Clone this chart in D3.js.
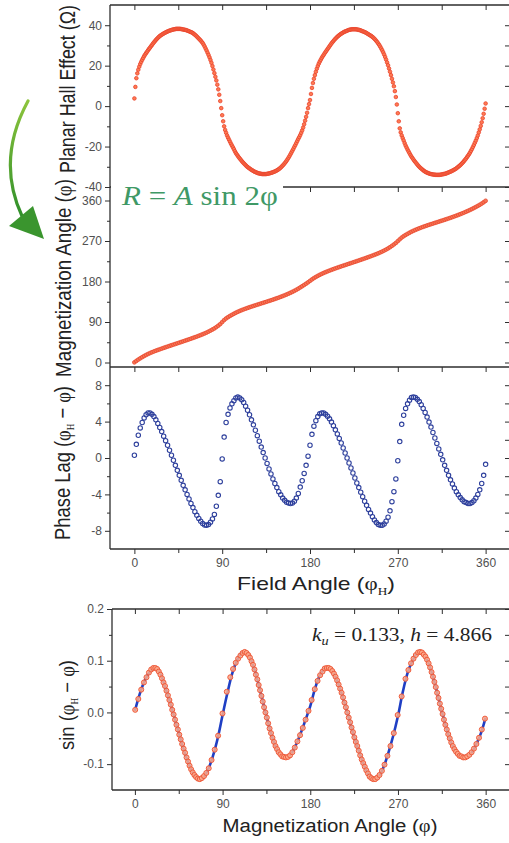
<!DOCTYPE html>
<html><head><meta charset="utf-8">
<script src="https://cdn.jsdelivr.net/npm/d3@7"></script>
<style>body{margin:0;background:#fff}svg{display:block}</style>
</head><body>
<svg id="c" width="509" height="843"></svg>
<script>
// ---------- DATA ----------
// panel 1 is sampled more finely than the others
const hallAngle = [0,1,2,3,4,5,6,7,8,9,10,11,12,13,14,15,16,17,18,19,20,21,22,23,24,25,26,27,28,29,
30,31,32,33,34,35,36,37,38,39,40,41,42,43,44,45,46,47,48,49,50,51,52,53,54,55,56,57,58,59,
60,61,62,63,64,65,66,67,68,69,70,71,72,73,74,75,76,77,78,79,80,81,82,83,84,85,86,87,88,89,
90,91,92,93,94,95,96,97,98,99,100,101,102,103,104,105,106,107,108,109,110,111,112,113,114,115,116,117,118,119,
120,121,122,123,124,125,126,127,128,129,130,131,132,133,134,135,136,137,138,139,140,141,142,143,144,145,146,147,148,149,
150,151,152,153,154,155,156,157,158,159,160,161,162,163,164,165,166,167,168,169,170,171,172,173,174,175,176,177,178,179,
180,181,182,183,184,185,186,187,188,189,190,191,192,193,194,195,196,197,198,199,200,201,202,203,204,205,206,207,208,209,
210,211,212,213,214,215,216,217,218,219,220,221,222,223,224,225,226,227,228,229,230,231,232,233,234,235,236,237,238,239,
240,241,242,243,244,245,246,247,248,249,250,251,252,253,254,255,256,257,258,259,260,261,262,263,264,265,266,267,268,269,
270,271,272,273,274,275,276,277,278,279,280,281,282,283,284,285,286,287,288,289,290,291,292,293,294,295,296,297,298,299,
300,301,302,303,304,305,306,307,308,309,310,311,312,313,314,315,316,317,318,319,320,321,322,323,324,325,326,327,328,329,
330,331,332,333,334,335,336,337,338,339,340,341,342,343,344,345,346,347,348,349,350,351,352,353,354,355,356,357,358,359,360];

const hallEffect = [3.8,9.5,13.8,16.2,18.0,19.5,20.8,21.9,22.9,23.8,
24.7,25.5,26.2,26.9,27.6,28.3,28.9,29.6,30.2,30.9,
31.5,32.1,32.7,33.2,33.7,34.2,34.6,35.0,35.3,35.6,
35.9,36.2,36.4,36.7,36.9,37.1,37.3,37.5,37.6,37.8,
37.9,38.0,38.1,38.2,38.2,38.2,38.2,38.2,38.1,38.0,
37.9,37.8,37.7,37.6,37.4,37.2,37.0,36.8,36.6,36.4,
36.1,35.7,35.3,34.9,34.4,33.9,33.4,32.9,32.4,31.8,
31.2,30.4,29.5,28.5,27.5,26.4,25.3,24.1,22.8,21.4,
19.8,18.1,16.3,14.5,12.7,10.6,8.3,5.6,2.5,-1.0,
-4.5,-7.5,-10.0,-11.8,-13.2,-14.5,-15.6,-16.6,-17.6,-18.6,
-19.5,-20.4,-21.3,-22.3,-23.2,-23.9,-24.6,-25.3,-25.9,-26.5,
-27.1,-27.7,-28.2,-28.7,-29.2,-29.7,-30.1,-30.5,-30.8,-31.2,
-31.5,-31.8,-32.1,-32.4,-32.6,-32.8,-33.0,-33.2,-33.3,-33.4,
-33.5,-33.6,-33.6,-33.6,-33.6,-33.6,-33.5,-33.4,-33.3,-33.2,
-33.0,-32.9,-32.7,-32.5,-32.3,-32.1,-31.8,-31.5,-31.2,-30.8,
-30.4,-29.9,-29.4,-28.9,-28.3,-27.7,-27.0,-26.3,-25.5,-24.7,
-23.8,-22.9,-22.0,-21.1,-20.1,-19.2,-18.2,-17.2,-16.2,-15.3,
-14.3,-13.2,-12.0,-10.6,-9.0,-7.2,-5.3,-3.3,-1.0,1.0,
3.0,6.0,9.0,11.4,13.5,15.3,17.0,18.5,19.8,21.0,
22.0,22.9,23.8,24.6,25.3,26.1,26.8,27.5,28.2,28.9,
29.6,30.3,31.0,31.6,32.2,32.8,33.3,33.8,34.3,34.7,
35.1,35.5,35.8,36.1,36.4,36.7,36.9,37.1,37.3,37.5,
37.7,37.8,37.9,38.0,38.0,38.0,38.0,38.0,37.9,37.8,
37.7,37.6,37.4,37.2,37.0,36.8,36.6,36.4,36.1,35.8,
35.5,35.2,34.9,34.6,34.2,33.8,33.3,32.8,32.2,31.6,
30.9,30.2,29.4,28.5,27.6,26.6,25.5,24.3,23.0,21.6,
20.2,18.6,17.0,15.3,13.5,11.7,9.8,7.4,4.5,0.8,
-3.5,-7.5,-11.0,-13.0,-14.5,-15.8,-17.0,-18.3,-19.5,-20.5,
-21.5,-22.4,-23.3,-24.2,-25.0,-25.7,-26.4,-27.1,-27.7,-28.3,
-28.9,-29.5,-30.0,-30.5,-30.9,-31.3,-31.7,-32.1,-32.4,-32.7,
-32.9,-33.1,-33.3,-33.5,-33.6,-33.7,-33.8,-33.9,-33.9,-34.0,
-34.0,-34.0,-34.0,-34.0,-33.9,-33.8,-33.7,-33.6,-33.5,-33.4,
-33.2,-33.0,-32.8,-32.6,-32.4,-32.2,-31.9,-31.7,-31.4,-31.1,
-30.8,-30.4,-30.0,-29.6,-29.2,-28.7,-28.2,-27.7,-27.1,-26.5,
-25.9,-25.2,-24.5,-23.8,-23.0,-22.1,-21.2,-20.2,-19.2,-18.1,
-17.0,-15.8,-14.5,-13.0,-11.5,-9.8,-8.0,-6.0,-3.8,-1.3,
1.3];

const fieldAngle = [0,2,4,6,8,10,12,14,16,18,20,22,24,26,28,30,32,34,36,38,40,42,44,46,48,50,52,54,56,58,
60,62,64,66,68,70,72,74,76,78,80,82,84,86,88,90,92,94,96,98,100,102,104,106,108,110,112,114,116,118,
120,122,124,126,128,130,132,134,136,138,140,142,144,146,148,150,152,154,156,158,160,162,164,166,168,170,172,174,176,178,
180,182,184,186,188,190,192,194,196,198,200,202,204,206,208,210,212,214,216,218,220,222,224,226,228,230,232,234,236,238,
240,242,244,246,248,250,252,254,256,258,260,262,264,266,268,270,272,274,276,278,280,282,284,286,288,290,292,294,296,298,
300,302,304,306,308,310,312,314,316,318,320,322,324,326,328,330,332,334,336,338,340,342,344,346,348,350,352,354,356,358,360];

const magAngle = [0.3,3.5,6.5,9.3,11.9,14.4,16.75,18.95,20.95,22.8,
24.55,26.2,27.8,29.35,30.9,32.4,33.9,35.4,36.85,38.3,
39.75,41.2,42.65,44.1,45.55,47.0,48.5,50.0,51.5,53.0,
54.55,56.1,57.7,59.35,61.05,62.8,64.65,66.6,68.7,70.95,
73.3,75.8,78.7,81.9,85.4,89.9,94.3,97.9,100.8,103.5,
105.95,108.3,110.6,112.7,114.6,116.4,118.1,119.7,121.25,122.75,
124.2,125.65,127.05,128.45,129.85,131.2,132.6,134.0,135.4,136.8,
138.25,139.7,141.2,142.75,144.3,145.95,147.6,149.35,151.15,153.05,
155.0,157.05,159.25,161.6,164.1,166.8,169.5,172.3,175.2,178.2,
181.4,184.6,187.5,190.1,192.55,194.85,196.95,198.95,200.8,202.6,
204.3,205.95,207.55,209.1,210.65,212.15,213.65,215.1,216.55,218.0,
219.45,220.9,222.35,223.8,225.25,226.75,228.25,229.75,231.25,232.8,
234.35,235.95,237.55,239.2,240.9,242.7,244.6,246.6,248.75,251.05,
253.5,256.2,259.2,262.3,265.7,269.7,273.8,277.7,280.7,283.45,
285.95,288.35,290.65,292.7,294.65,296.45,298.2,299.85,301.45,303.0,
304.5,305.95,307.4,308.8,310.2,311.6,313.0,314.4,315.8,317.2,
318.65,320.1,321.6,323.15,324.7,326.3,327.95,329.65,331.4,333.2,
335.1,337.0,339.0,341.1,343.3,345.6,348.0,350.5,353.2,356.1,
359.3];

const phaseLag = [0.3,1.5,2.5,3.3,3.9,4.4,4.75,4.95,4.95,4.8,
4.55,4.2,3.8,3.35,2.9,2.4,1.9,1.4,0.85,0.3,
-0.25,-0.8,-1.35,-1.9,-2.45,-3.0,-3.5,-4.0,-4.5,-5.0,
-5.45,-5.9,-6.3,-6.65,-6.95,-7.2,-7.35,-7.4,-7.3,-7.05,
-6.7,-6.2,-5.3,-4.1,-2.6,-0.1,2.3,3.9,4.8,5.5,
5.95,6.3,6.6,6.7,6.6,6.4,6.1,5.7,5.25,4.75,
4.2,3.65,3.05,2.45,1.85,1.2,0.6,0.0,-0.6,-1.2,
-1.75,-2.3,-2.8,-3.25,-3.7,-4.05,-4.4,-4.65,-4.85,-4.95,
-5.0,-4.95,-4.75,-4.4,-3.9,-3.2,-2.5,-1.7,-0.8,0.2,
1.4,2.6,3.5,4.1,4.55,4.85,4.95,4.95,4.8,4.6,
4.3,3.95,3.55,3.1,2.65,2.15,1.65,1.1,0.55,0.0,
-0.55,-1.1,-1.65,-2.2,-2.75,-3.25,-3.75,-4.25,-4.75,-5.2,
-5.65,-6.05,-6.45,-6.8,-7.1,-7.3,-7.4,-7.4,-7.25,-6.95,
-6.5,-5.8,-4.8,-3.7,-2.3,-0.3,1.8,3.7,4.7,5.45,
5.95,6.35,6.65,6.7,6.65,6.45,6.2,5.85,5.45,5.0,
4.5,3.95,3.4,2.8,2.2,1.6,1.0,0.4,-0.2,-0.8,
-1.35,-1.9,-2.4,-2.85,-3.3,-3.7,-4.05,-4.35,-4.6,-4.8,
-4.9,-5.0,-5.0,-4.9,-4.7,-4.4,-4.0,-3.5,-2.8,-1.9,
-0.7];

const sinLag = [0.005,0.026,0.044,0.058,0.068,0.077,0.083,0.086,0.086,0.084,
0.079,0.073,0.066,0.058,0.051,0.042,0.033,0.024,0.015,0.005,
-0.004,-0.014,-0.024,-0.033,-0.043,-0.052,-0.061,-0.070,-0.078,-0.087,
-0.095,-0.103,-0.110,-0.116,-0.121,-0.125,-0.128,-0.129,-0.127,-0.123,
-0.117,-0.108,-0.092,-0.072,-0.045,-0.002,0.040,0.068,0.084,0.096,
0.104,0.110,0.115,0.117,0.115,0.111,0.106,0.099,0.092,0.083,
0.073,0.064,0.053,0.043,0.032,0.021,0.010,0.000,-0.010,-0.021,
-0.031,-0.040,-0.049,-0.057,-0.065,-0.071,-0.077,-0.081,-0.085,-0.086,
-0.087,-0.086,-0.083,-0.077,-0.068,-0.056,-0.044,-0.030,-0.014,0.003,
0.024,0.045,0.061,0.072,0.079,0.085,0.086,0.086,0.084,0.080,
0.075,0.069,0.062,0.054,0.046,0.038,0.029,0.019,0.010,0.000,
-0.010,-0.019,-0.029,-0.038,-0.048,-0.057,-0.065,-0.074,-0.083,-0.091,
-0.098,-0.105,-0.112,-0.118,-0.124,-0.127,-0.129,-0.129,-0.126,-0.121,
-0.113,-0.101,-0.084,-0.065,-0.040,-0.005,0.031,0.065,0.082,0.095,
0.104,0.111,0.116,0.117,0.116,0.112,0.108,0.102,0.095,0.087,
0.078,0.069,0.059,0.049,0.038,0.028,0.017,0.007,-0.003,-0.014,
-0.024,-0.033,-0.042,-0.050,-0.058,-0.065,-0.071,-0.076,-0.080,-0.084,
-0.085,-0.087,-0.087,-0.085,-0.082,-0.077,-0.070,-0.061,-0.049,-0.033,
-0.012];

const fitAngle = [0,5,10,15,20,25,30,35,40,45,50,55,60,65,70,75,80,85,90,95,100,105,110,115,120,125,130,135,140,145,150,155,160,165,170,175,
180,185,190,195,200,205,210,215,220,225,230,235,240,245,250,255,260,265,270,275,280,285,290,295,300,305,310,315,320,325,330,335,340,345,350,355,360];
const fitValue = [0.003,0.036,0.061,0.078,0.086,0.079,0.055,0.026,-0.006,-0.039,-0.071,-0.098,-0.118,-0.128,-0.126,-0.111,-0.085,-0.050,-0.005,0.038,0.076,0.101,0.115,0.115,0.098,0.068,0.031,-0.007,-0.042,-0.068,-0.083,-0.087,-0.081,-0.064,-0.041,-0.015,
0.012,0.047,0.072,0.085,0.085,0.072,0.049,0.020,-0.013,-0.047,-0.075,-0.101,-0.121,-0.129,-0.124,-0.107,-0.079,-0.046,-0.007,0.040,0.077,0.100,0.115,0.116,0.101,0.075,0.040,0.002,-0.032,-0.060,-0.077,-0.085,-0.086,-0.079,-0.063,-0.041,-0.010];

const xTickMajor = [0,90,180,270,360];
const xTickMinor = [45,135,225,315];
const hallTicks = [-40,-20,0,20,40], hallMinor = [-30,-10,10,30];
const magTicks = [0,90,180,270,360], magMinor = [45,135,225,315];
const lagTicks = [-8,-4,0,4,8], lagMinor = [-6,-2,2,6];
const sinTicks = [-0.1,0.0,0.1,0.2], sinMinor = [-0.05,0.05,0.15];

// ---------- DRAWING ----------
const svg = d3.select('#c');
const FONT = '"Liberation Sans", Arial, Helvetica, sans-serif';
const SERIF = '"Liberation Serif", "Times New Roman", serif';
const AX = '#2e2e2e';

const xA = d3.scaleLinear().domain([-25,385]).range([110,510]);
const y1 = d3.scaleLinear().domain([-40,50]).range([187,5]);
const y2 = d3.scaleLinear().domain([-10,390]).range([367,187]);
const y3 = d3.scaleLinear().domain([-10,10]).range([549,367]);
const xB = d3.scaleLinear().domain([-23.5,385]).range([112,510]);
const y4 = d3.scaleLinear().domain([-0.15,0.2]).range([790,609]);

const fmtInt = d => String(d);
const fmt1 = d => d.toFixed(1);

function styleAxis(g){
  g.select('.domain').remove();
  g.selectAll('line').attr('stroke',AX).attr('stroke-width',1);
  g.selectAll('text').attr('font-family',FONT).attr('font-size',12).attr('fill','#505050');
}
function yAxis(scale,x0,x1,maj,min,fmt){
  styleAxis(svg.append('g').attr('transform',`translate(${x0},0)`).call(d3.axisLeft(scale).tickValues(maj).tickSize(5).tickPadding(3).tickFormat(fmt)));
  styleAxis(svg.append('g').attr('transform',`translate(${x0},0)`).call(d3.axisLeft(scale).tickValues(min).tickSize(3).tickFormat('')));
  styleAxis(svg.append('g').attr('transform',`translate(${x1},0)`).call(d3.axisRight(scale).tickValues(maj.concat(min)).tickSize(-4).tickFormat('')));
}
function xAxis(scale,y,labels){
  styleAxis(svg.append('g').attr('transform',`translate(0,${y})`).call(d3.axisBottom(scale).tickValues(xTickMajor).tickSize(5).tickPadding(4).tickFormat(labels?fmtInt:'')));
  styleAxis(svg.append('g').attr('transform',`translate(0,${y})`).call(d3.axisBottom(scale).tickValues(xTickMinor).tickSize(labels?4:5).tickFormat('')));
}
function hline(x0,x1,y){svg.append('line').attr('x1',x0).attr('x2',x1).attr('y1',y).attr('y2',y).attr('stroke',AX).attr('stroke-width',1.3);}
function vline(x,y0,y1){svg.append('line').attr('x1',x).attr('x2',x).attr('y1',y0).attr('y2',y1).attr('stroke',AX).attr('stroke-width',1.3);}

// ---- panel 1: Planar Hall effect
svg.append('g').selectAll('circle').data(hallAngle).join('circle')
  .attr('cx',d=>xA(d)).attr('cy',(d,i)=>y1(hallEffect[i])).attr('r',1.8)
  .attr('fill','#ff7a52').attr('stroke','#e9432c').attr('stroke-width',0.8);
// ---- panel 2: magnetization angle
svg.append('g').selectAll('circle').data(fieldAngle).join('circle')
  .attr('cx',d=>xA(d)).attr('cy',(d,i)=>y2(magAngle[i])).attr('r',1.9)
  .attr('fill','#f77555').attr('stroke','#e9482f').attr('stroke-width',0.8);
// ---- panel 3: phase lag
svg.append('g').selectAll('circle').data(fieldAngle).join('circle')
  .attr('cx',d=>xA(d)).attr('cy',(d,i)=>y3(phaseLag[i])).attr('r',2.2)
  .attr('fill','none').attr('stroke','#2d3f9c').attr('stroke-width',1.1);
// ---- panel 4: sin(lag) vs magnetization angle + fit line
svg.append('path').datum(fitAngle.map((a,i)=>[a,fitValue[i]]))
  .attr('d',d3.line().x(d=>xB(d[0])).y(d=>y4(d[1])).curve(d3.curveCatmullRom))
  .attr('fill','none').attr('stroke','#1f3fc4').attr('stroke-width',2.6);
svg.append('g').selectAll('circle').data(magAngle).join('circle')
  .attr('cx',d=>xB(d)).attr('cy',(d,i)=>y4(sinLag[i])).attr('r',2.5)
  .attr('fill','#ffab8c').attr('fill-opacity',0.85).attr('stroke','#ee5a3b').attr('stroke-width',1);

// ---- frames & axes (stacked panels)
vline(110,5,549);
hline(110,510,5);
hline(110,510,187);
hline(110,510,367);
hline(110,510,549);
xAxis(xA,5,false);
xAxis(xA,187,false);
xAxis(xA,367,false);
xAxis(xA,549,true);
yAxis(y1,110,509,hallTicks,hallMinor,fmtInt);
yAxis(y2,110,509,magTicks,magMinor,fmtInt);
yAxis(y3,110,509,lagTicks,lagMinor,fmtInt);

// ---- bottom panel frame & axes
vline(112,609,790);
hline(112,510,609);
hline(112,510,790);
xAxis(xB,609,false);
xAxis(xB,790,true);
yAxis(y4,112,509,sinTicks,sinMinor,fmt1);

// ---- equation box
svg.append('rect').attr('x',111).attr('y',182).attr('width',172).attr('height',13).attr('fill','#fff');
const eq = svg.append('text').attr('x',122).attr('y',205).attr('font-family',SERIF).attr('font-size',27).attr('fill','#3f9966');
eq.append('tspan').attr('font-style','italic').text('R');
eq.append('tspan').text(' = ');
eq.append('tspan').attr('font-style','italic').text('A');
eq.append('tspan').text(' sin 2φ');
{ const w = eq.node().getBBox().width; eq.attr('transform',`translate(122,0) scale(${157/w},1) translate(-122,0)`); }

// ---- annotation
const an = svg.append('text').attr('x',312).attr('y',641).attr('font-family',SERIF).attr('font-size',18).attr('fill','#222');
an.append('tspan').attr('font-style','italic').text('k');
an.append('tspan').attr('font-style','italic').attr('font-size',12).attr('dy',4).text('u');
an.append('tspan').attr('dy',-4).text(' = 0.133, ');
an.append('tspan').attr('font-style','italic').text('h');
an.append('tspan').text(' = 4.866');
{ const w = an.node().getBBox().width; an.attr('transform',`translate(312,0) scale(${180/w},1) translate(-312,0)`); }

// ---- titles
function title(x,y,rot,parts,F,target){
  const g = svg.append('g');
  const t = g.append('text').attr('text-anchor','middle').attr('font-family',FONT).attr('font-size',F).attr('fill','#222');
  parts.forEach(p=>{
    const s = t.append('tspan').text(p.t);
    if(p.serif) s.attr('font-family',SERIF);
    if(p.size) s.attr('font-size',p.size);
    if(p.dy) s.attr('dy',p.dy);
  });
  const w = t.node().getBBox().width;
  g.attr('transform',`translate(${x},${y}) rotate(${rot}) scale(${target/w},1)`);
}
title(75,89,-90,[{t:'Planar Hall Effect (Ω)'}],22,168);
title(71,278,-90,[{t:'Magnetization Angle ('},{t:'φ',serif:true},{t:')'}],22,198);
title(70,463,-90,[{t:'Phase Lag ('},{t:'φ',serif:true},{t:'H',serif:true,size:11,dy:4},{t:' − ',dy:-4},{t:'φ',serif:true},{t:')'}],22,154);
title(74,705,-90,[{t:'sin ('},{t:'φ',serif:true},{t:'H',serif:true,size:10,dy:4},{t:' − ',dy:-4},{t:'φ',serif:true},{t:')'}],20,90);
title(316,590,0,[{t:'Field Angle ('},{t:'φ',serif:true},{t:'H',serif:true,size:11,dy:5},{t:')',dy:-5}],19,158);
title(330,832,0,[{t:'Magnetization Angle ('},{t:'φ',serif:true},{t:')'}],19,215);

// ---- green arrow
const defs = svg.append('defs');
const gr = defs.append('linearGradient').attr('id','ga').attr('x1',0).attr('y1',0).attr('x2',0).attr('y2',1);
gr.append('stop').attr('offset','0%').attr('stop-color','#8cc43c');
gr.append('stop').attr('offset','100%').attr('stop-color','#2f8f2a');
svg.append('path').attr('d','M28,101 Q-4,160 22,216').attr('fill','none').attr('stroke','url(#ga)').attr('stroke-width',3.2).attr('stroke-linecap','round');
svg.append('path').attr('d','M9,226 L33,206 L44,239 Z').attr('fill','#3a952e');
</script>
</body></html>
